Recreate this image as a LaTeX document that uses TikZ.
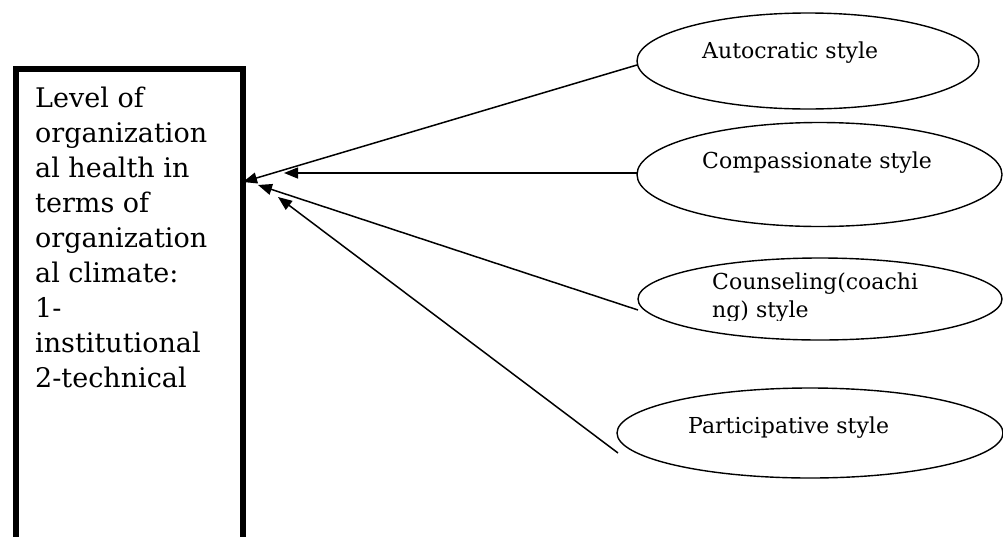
\documentclass[tikz,border=0pt]{standalone}
\usepackage{fontspec}
\setmainfont{DejaVu Serif}
\usetikzlibrary{shapes.geometric,arrows.meta}
\tikzset{
  oval/.style={draw, ellipse, line width=1.4pt, inner sep=0pt},
  lbl/.style={anchor=base west, inner sep=0pt, font=\fontsize{22}{28}\selectfont},
  conn/.style={line width=1.5pt, -{Triangle[length=14pt,width=11pt]}},
}
\begin{document}
\begin{tikzpicture}[x=1pt,y=-1pt]
\useasboundingbox (0,0) rectangle (1003,536);
% main box
\node[draw, line width=6pt, minimum width=227pt, minimum height=490pt, inner sep=0pt, anchor=north west] (box) at (13,66) {};
\node[anchor=north west, inner sep=0pt, align=left, font=\fontsize{27}{35}\selectfont] (boxtext) at (35,86.5)
  {Level of\\organization\\al health in\\terms of\\organization\\al climate:\\1-\\institutional\\2-technical};
% ellipses
\node[oval, minimum width=342pt, minimum height=96pt] (e1) at (808,61) {};
\node[oval, minimum width=365pt, minimum height=104pt] (e2) at (819.5,174.5) {};
\node[oval, minimum width=364pt, minimum height=82pt] (e3) at (820,299) {};
\node[oval, minimum width=386pt, minimum height=90pt] (e4) at (810,433) {};
% labels
\node[lbl] (t1) at (702,58) {Autocratic style};
\node[lbl] (t2) at (702,168) {Compassionate style};
\begin{scope}
\clip (700,266) rectangle (960,320);
\node[lbl, anchor=north west, align=left] (t3) at (712,273) {Counseling(coachi\\ng) style};
\end{scope}
\node[lbl] (t4) at (688,433) {Participative style};
% connector ends
\coordinate (s1) at (637,65);
\coordinate (s2) at (637,173);
\coordinate (s3) at (638,310);
\coordinate (s4) at (618,453);
\coordinate (p1) at (243,182);
\coordinate (p2) at (284,173);
\coordinate (p3) at (258,185);
\coordinate (p4) at (278,197);
\draw[conn] (s1) -- (p1);
\draw[conn] (s2) -- (p2);
\draw[conn] (s3) -- (p3);
\draw[conn] (s4) -- (p4);
\end{tikzpicture}
\end{document}
